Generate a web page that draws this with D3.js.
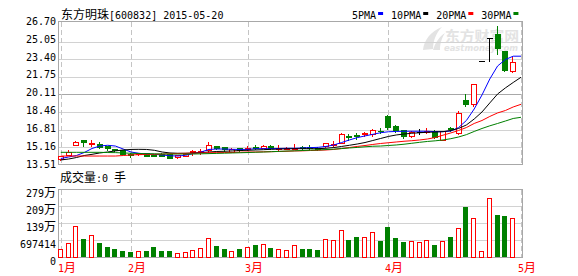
<!DOCTYPE html>
<html><head><meta charset="utf-8">
<script src="https://cdn.jsdelivr.net/npm/d3@7"></script>
<style>
html,body{margin:0;padding:0;background:#fff;}
svg{display:block;}
text{white-space:pre;}
</style></head><body>
<svg id="c" width="578" height="276"></svg>
<script>
// ---------- data ----------
const title = "东方明珠[600832] 2015-05-20";
const volTitle = "成交量:0 手";
const priceTicks = [13.51,15.16,16.81,18.46,20.11,21.75,23.40,25.05,26.70];
const priceTickLabels = ["13.51","15.16","16.81","18.46","20.11","21.75","23.40","25.05","26.70"];
const volTicks = [0,697414,1394828,2092242,2789656];
const volTickLabels = ["0","697414","139万","209万","279万"];
const monthIdx = [0,9,24,42,59];
const monthLabels = ["1月","2月","3月","4月","5月"];
const maNames = ["5PMA","10PMA","20PMA","30PMA"];
const maColors = ["#0000ff","#000000","#ff0000","#008000"];

const open  = [14.06,14.48,15.41,15.88,15.58,15.50,15.30,15.00,14.93,14.60,14.53,14.66,14.50,14.60,14.53,14.25,14.40,14.76,14.80,14.91,15.28,15.19,14.79,15.08,15.00,15.25,15.10,15.35,15.14,15.12,15.14,15.18,15.18,15.16,15.28,15.45,15.60,16.25,16.32,16.45,16.47,16.76,18.16,17.23,16.78,16.22,16.66,16.68,16.75,15.92,16.97,16.50,19.66,19.29,23.28,25.46,25.86,24.23,22.38];
const high  = [14.36,14.91,15.80,15.90,15.88,15.66,15.35,15.05,14.95,14.62,14.70,14.70,14.55,14.62,14.55,14.50,14.62,14.95,15.00,15.66,15.30,15.20,15.08,15.10,15.30,15.41,15.38,15.38,15.41,15.20,15.54,15.35,15.38,15.25,15.60,15.75,16.54,16.40,16.54,16.66,16.88,16.97,18.20,17.25,16.85,16.70,16.91,16.97,16.78,16.76,17.10,18.58,20.23,21.16,23.28,25.46,26.60,24.23,23.65];
const low   = [13.97,14.45,15.38,15.28,15.28,15.09,14.98,14.80,14.55,14.30,14.45,14.33,14.35,14.38,14.15,14.15,14.38,14.50,14.55,14.79,15.05,14.80,14.75,14.85,14.95,15.04,15.08,15.06,14.97,15.05,15.04,14.97,15.05,14.95,15.25,15.30,15.55,15.90,15.97,16.22,16.22,16.54,16.92,16.60,16.07,16.20,16.47,16.50,16.10,15.85,16.72,16.45,19.04,19.10,23.28,23.28,24.00,22.32,22.29];
const close = [14.34,14.72,15.66,15.66,15.62,15.26,15.16,14.90,14.58,14.45,14.66,14.38,14.42,14.41,14.22,14.45,14.60,14.80,14.88,15.41,15.16,15.04,15.04,14.95,15.08,15.16,15.35,15.10,15.17,15.15,15.17,15.15,15.14,15.00,15.58,15.50,16.41,16.20,16.28,16.49,16.85,16.72,17.10,16.79,16.29,16.66,16.66,16.72,16.16,16.74,16.90,18.43,19.25,21.16,23.28,25.46,24.50,22.41,23.20];
const volume = [349000,595000,1290000,771000,923000,595000,443000,349000,267000,238000,267000,267000,443000,267000,267000,185000,213000,320000,390000,800000,484000,361000,254000,361000,431000,525000,554000,390000,349000,295000,513000,361000,361000,320000,759000,718000,1128000,718000,853000,841000,1046000,677000,1264000,800000,636000,677000,636000,705000,513000,677000,841000,1210000,2070000,1620000,254000,2430000,1740000,1700000,1620000];

const ma5  = [14.14,14.28,14.42,14.70,15.08,15.31,15.38,15.31,15.03,14.75,14.63,14.56,14.53,14.47,14.40,14.37,14.44,14.61,14.75,14.99,15.03,15.03,15.00,14.99,15.00,15.06,15.06,15.06,15.08,15.10,15.10,15.13,15.16,15.19,15.27,15.41,15.64,15.88,16.10,16.26,16.41,16.56,16.65,16.68,16.70,16.70,16.70,16.70,16.66,16.66,16.72,17.05,17.71,18.79,20.11,21.61,22.83,23.44,23.75,23.75];
const ma10 = [14.00,14.09,14.23,14.42,14.53,14.66,14.75,14.85,14.94,14.99,15.00,14.99,14.91,14.75,14.66,14.63,14.63,14.66,14.69,14.75,14.80,14.82,14.85,14.89,14.91,14.94,14.97,15.00,15.03,15.05,15.06,15.06,15.06,15.06,15.10,15.17,15.27,15.38,15.50,15.64,15.83,16.02,16.21,16.35,16.44,16.51,16.56,16.60,16.63,16.66,16.77,16.96,17.29,17.85,18.51,19.36,20.20,20.77,21.28,21.77];
const ma20 = [14.37,14.37,14.37,14.37,14.37,14.37,14.37,14.37,14.42,14.47,14.50,14.52,14.53,14.56,14.58,14.61,14.63,14.64,14.66,14.68,14.69,14.70,14.72,14.73,14.75,14.75,14.77,14.78,14.80,14.82,14.85,14.86,14.89,14.91,14.94,14.99,15.08,15.17,15.27,15.36,15.46,15.55,15.62,15.69,15.76,15.81,15.88,15.97,16.11,16.33,16.54,16.77,17.05,17.43,17.71,18.09,18.42,18.65,18.98,19.23];
const ma30 = [14.72,14.72,14.72,14.72,14.72,14.72,14.70,14.69,14.66,14.63,14.61,14.59,14.58,14.56,14.56,14.56,14.56,14.56,14.58,14.60,14.62,14.64,14.66,14.68,14.70,14.73,14.75,14.78,14.81,14.84,14.86,14.89,14.92,14.94,14.98,15.02,15.07,15.13,15.18,15.24,15.29,15.31,15.36,15.41,15.48,15.57,15.66,15.74,15.80,15.88,16.00,16.16,16.38,16.68,16.96,17.21,17.43,17.66,17.90,18.01];
const maSeries = [ma5, ma10, ma20, ma30];

// ---------- layout ----------
const RED = "#ff0000", GREEN = "#008000";
const ASCII_FONT = "'DejaVu Sans Mono','Liberation Mono',monospace";
const CJK_FONT = "'Noto Sans CJK SC','Noto Sans CJK JP',sans-serif";
const L = 58.5, R = 522.5, PT = 21.5, PB = 164.5, VT = 189.5, VB = 257.5;

const svg = d3.select("#c");
const x  = d3.scaleLinear().domain([0, 59]).range([60.8, 521]);
const yP = d3.scaleLinear().domain([13.51, 26.70]).range([165.2, 24.8]);
const yL = d3.scaleLinear().domain([13.51, 26.70]).range([168, 24.7]);
const yV = d3.scaleLinear().domain([0, 2789656]).range([257.5, 189.5]);

function mixed(g, str, px, py, anchor, fill) {
  const t = g.append("text").attr("x", px).attr("y", py)
    .attr("text-anchor", anchor || "start").attr("fill", fill || "#000");
  const runs = str.match(/[\u3000-\u9fff\uff00-\uffef]+|[^\u3000-\u9fff\uff00-\uffef]+/g);
  runs.forEach(r => {
    const cjk = /[\u3000-\u9fff\uff00-\uffef]/.test(r);
    t.append("tspan").attr("font-family", cjk ? CJK_FONT : ASCII_FONT)
      .attr("font-size", cjk ? 12 : 10).text(r);
  });
  return t;
}

// watermark
const wm = svg.append("g").attr("fill", "#e3e3e3");
wm.append("path").attr("d", "M423,50 C424,40 431,31 442,27 C436,33 433,41 433,49 Z M433,50 C435,43 439,37 445,33 C441,39 440,45 440,50 Z");
wm.append("text").attr("x", 445).attr("y", 40.5).attr("font-family", CJK_FONT)
  .attr("font-size", 14).attr("font-weight", "bold")
  .attr("textLength", 74).attr("lengthAdjust", "spacingAndGlyphs").text("东方财富网");
wm.append("text").attr("x", 444).attr("y", 51).attr("font-family", "'DejaVu Sans',sans-serif")
  .attr("font-size", 8).attr("font-weight", "bold").attr("font-style", "italic")
  .attr("textLength", 74).attr("lengthAdjust", "spacingAndGlyphs").text("eastmoney.com");

// grid
const grid = svg.append("g").attr("shape-rendering", "crispEdges");
priceTicks.forEach((v, k) => {
  if (k === 0 || k === priceTicks.length - 1) return;
  const yy = Math.floor(yP(v)) + 0.5;
  grid.append("line").attr("x1", L).attr("x2", R).attr("y1", yy).attr("y2", yy)
    .attr("stroke", k === 4 ? "#a8a8a8" : "#d2d2d2");
});
volTicks.forEach((v, k) => {
  if (k === 0 || k === volTicks.length - 1) return;
  const yy = Math.floor(yV(v)) + 0.5;
  grid.append("line").attr("x1", L).attr("x2", R).attr("y1", yy).attr("y2", yy).attr("stroke", "#d2d2d2");
});
monthIdx.forEach(mi => {
  const xx = Math.round(x(mi)) + 0.5;
  [[PT, PB], [VT, VB]].forEach(([a, b]) => {
    grid.append("line").attr("x1", xx).attr("x2", xx).attr("y1", a).attr("y2", b)
      .attr("stroke", "#c4c4c4").attr("stroke-dasharray", "5,3");
  });
});
// frames
[[PT, PB], [VT, VB]].forEach(([a, b]) => {
  grid.append("rect").attr("x", L).attr("y", a).attr("width", R - L).attr("height", b - a)
    .attr("fill", "none").attr("stroke", "#a8a8a8");
});

// candles
const gC = svg.append("g").attr("shape-rendering", "crispEdges");
open.forEach((o, i) => {
  const c = close[i], h = high[i], l = low[i];
  const cx = Math.round(x(i));
  const col = c > o ? RED : (c < o ? GREEN : "#000");
  gC.append("line").attr("x1", cx - 0.5).attr("x2", cx - 0.5)
    .attr("y1", Math.round(yP(h))).attr("y2", Math.round(yP(l)) + 1).attr("stroke", col);
  if (c > o) {
    const t = Math.round(yP(c)), b = Math.round(yP(o));
    gC.append("rect").attr("x", cx - 2.5).attr("y", t + 0.5).attr("width", 5)
      .attr("height", Math.max(1, b - t)).attr("fill", "#fff").attr("stroke", col);
  } else if (c < o) {
    const t = Math.round(yP(o)), b = Math.round(yP(c));
    gC.append("rect").attr("x", cx - 3).attr("y", t).attr("width", 6)
      .attr("height", Math.max(1, b - t + 1)).attr("fill", col);
  } else {
    const t = Math.round(yP(c)) + 0.5;
    gC.append("line").attr("x1", cx - 3).attr("x2", cx + 3).attr("y1", t).attr("y2", t).attr("stroke", col);
  }
});

// moving averages
const line = d3.line().x((d, i) => x(i)).y(d => yP(d));
maSeries.forEach((s, k) => {
  svg.append("path").attr("d", line(s)).attr("fill", "none")
    .attr("stroke", maColors[k]).attr("stroke-width", 1);
});

// volume bars
const gV = svg.append("g").attr("shape-rendering", "crispEdges");
volume.forEach((v, i) => {
  const cx = Math.round(x(i));
  const t = Math.round(yV(v));
  if (close[i] >= open[i]) {
    gV.append("rect").attr("x", cx - 2.5).attr("y", t + 0.5).attr("width", 4)
      .attr("height", 256.5 - t).attr("fill", "#fff").attr("stroke", RED);
  } else {
    gV.append("rect").attr("x", cx - 3).attr("y", t).attr("width", 5)
      .attr("height", 257 - t).attr("fill", GREEN);
  }
});

// texts
const gT = svg.append("g");
mixed(gT, title, 61, 18.5);
priceTicks.forEach((v, k) => mixed(gT, priceTickLabels[k], 56, yL(v), "end"));
volTicks.forEach((v, k) => mixed(gT, volTickLabels[k], 56, yV(v) + 7, "end"));
mixed(gT, volTitle, 60, 181.5);
monthIdx.forEach((mi, k) => mixed(gT, monthLabels[k], Math.round(x(mi)) - 3, 272, "start", RED));

// legend
let cur = 352;
maNames.forEach((n, k) => {
  const t = mixed(gT, n, cur, 18.5);
  const w = t.node().getComputedTextLength();
  gT.append("rect").attr("x", cur + w + 2).attr("y", 12).attr("width", 5).attr("height", 3)
    .attr("fill", maColors[k]);
  cur += w + 2 + 5 + 8;
});
</script>
</body></html>
